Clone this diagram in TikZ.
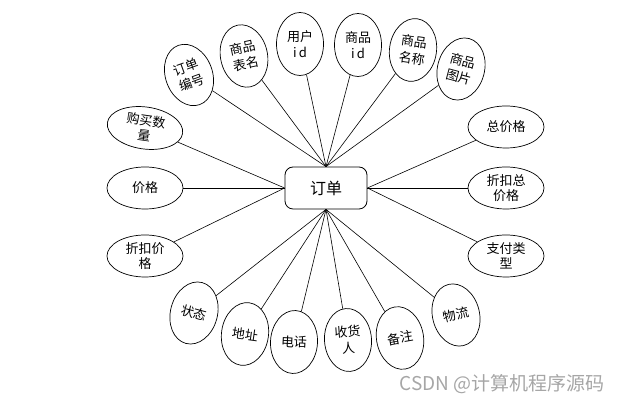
\documentclass[tikz,border=0pt]{standalone}
\usepackage{fontspec}
\newfontfamily\cjk{Noto Sans CJK SC}
\usepackage{tikz}
\usetikzlibrary{shapes.geometric}

\begin{document}
\begin{tikzpicture}[x=1pt, y=1pt,
    attr/.style={draw, ellipse, line width=0.7pt, inner sep=0pt,
        minimum width=47pt, minimum height=63pt, align=center,
        font=\cjk\fontsize{13}{16.5}\selectfont},
    attrh/.style={attr, minimum width=76pt, minimum height=42pt,
        font=\cjk\fontsize{13}{15}\selectfont},
    link/.style={line width=0.6pt}]

    % === Dimensioni del riquadro ===
    \useasboundingbox (0,0) rectangle (623,403);

    % === 1. Entita' centrale ===
    \node[draw, rounded corners=8pt, line width=0.8pt, minimum width=82pt,
        minimum height=42pt, font=\cjk\fontsize{16}{18}\selectfont] (order) at (326,215) {订单};

    % === 2. Attributi in alto ===
    \node[attr, rotate=20]  (orderno)   at (189,328) {订单\\编号};
    \node[attr, rotate=12]  (tablename) at (244,347) {商品\\表名};
    \node[attr]             (userid)    at (300,359) {用户\\i\,d};
    \node[attr]             (goodsid)   at (358,358) {商品\\i\,d};
    \node[attr, rotate=-8]  (goodsname) at (413,353) {商品\\名称};
    \node[attr, rotate=-15] (goodsimg)  at (461,334) {商品\\图片};

    % === 3. Attributi a sinistra e a destra ===
    \node[attrh, rotate=-8] (qty)       at (145,275) {购买数\\量};
    \node[attrh]            (price)     at (145,215) {价格};
    \node[attrh]            (discprice) at (145,147) {折扣价\\格};
    \node[attrh]            (total)     at (506,276) {总价格};
    \node[attrh]            (disctotal) at (506,215) {折扣总\\价格};
    \node[attrh]            (paytype)   at (506,147) {支付类\\型};

    % === 4. Attributi in basso ===
    \node[attr, rotate=-15] (status)    at (194,90) {状态};
    \node[attr, rotate=-8]  (address)   at (245,69) {地址};
    \node[attr, rotate=-3]  (phone)     at (294,61) {电话};
    \node[attr, rotate=4]   (receiver)  at (348,63) {收货\\人};
    \node[attr, rotate=10]  (remark)    at (400,65) {备注};
    \node[attr, rotate=14]  (logistics) at (456,88) {物流};

    % === 5. Collegamenti ===
    \foreach \n in {orderno, tablename, userid, goodsid, goodsname, goodsimg}
        \draw[link] (\n) -- (order.north);
    \foreach \n in {qty, price, discprice}
        \draw[link] (\n) -- (order.west);
    \foreach \n in {total, disctotal, paytype}
        \draw[link] (\n) -- (order.east);
    \foreach \n in {status, address, phone, receiver, remark, logistics}
        \draw[link] (\n) -- (order.south);

    % === 6. Filigrana ===
    \node[font=\cjk\fontsize{19}{21}\selectfont, text=black!35] (mark) at (502,19) {CSDN @计算机程序源码};

\end{tikzpicture}
\end{document}
